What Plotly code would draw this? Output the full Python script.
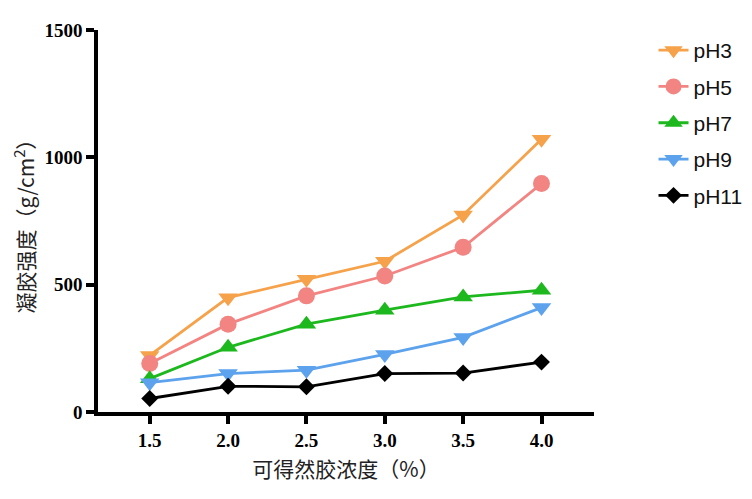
import plotly.graph_objects as go

conc = [1.5, 2.0, 2.5, 3.0, 3.5, 4.0]
ph3 = [222, 449, 521, 592, 774, 1071]
ph5 = [190, 345, 456, 534, 647, 897]
ph7 = [131, 254, 345, 400, 452, 478]
ph9 = [115, 151, 164, 226, 293, 410]
ph11 = [53, 101, 99, 151, 153, 196]

series = [
    ("pH3", ph3, "#F5A24B", "triangle-down"),
    ("pH5", ph5, "#F28482", "circle"),
    ("pH7", ph7, "#1DB81D", "triangle-up"),
    ("pH9", ph9, "#5CA2EC", "triangle-down"),
    ("pH11", ph11, "#000000", "diamond"),
]

fig = go.Figure()
for name, vals, col, sym in series:
    fig.add_trace(go.Scatter(
        x=conc, y=vals, name=name, mode="lines+markers",
        legendgroup=name,
        line=dict(color=col, width=2.8),
        marker=dict(color=col, symbol=sym, size=17 if sym != "diamond" else 13),
    ))

serif = "Liberation Serif"
cjk = "Noto Sans CJK SC"
fig.update_layout(
    width=752, height=499,
    margin=dict(l=90, r=163, t=19, b=95),
    plot_bgcolor="white", paper_bgcolor="white",
    legend=dict(x=1.12, y=1.0, yanchor="top", xanchor="left",
                font=dict(family="Liberation Sans", size=21, color="#111"),
                tracegroupgap=6),
)
fig.update_xaxes(
    range=[1.17, 4.335], tickvals=conc, ticktext=[f"{c:.1f}" for c in conc],
    showline=True, linecolor="black", linewidth=3.5, showgrid=False, zeroline=False,
    ticks="outside", ticklen=8, tickwidth=3.5, tickcolor="black",
    tickfont=dict(family=serif, size=19, color="black", weight="bold"),
    title=dict(text="可得然胶浓度（%）", font=dict(family=cjk, size=21, color="#222"), standoff=14),
)
fig.update_yaxes(
    range=[0, 1500], tickvals=[0, 500, 1000, 1500],
    showline=True, linecolor="black", linewidth=3.5, showgrid=False, zeroline=False,
    ticks="outside", ticklen=8, tickwidth=3.5, tickcolor="black",
    tickfont=dict(family=serif, size=19, color="black", weight="bold"),
    title=dict(text="凝胶强度（g/cm<sup>2</sup>）", font=dict(family=cjk, size=21, color="#222"), standoff=6),
)
fig.write_html("out.html")
